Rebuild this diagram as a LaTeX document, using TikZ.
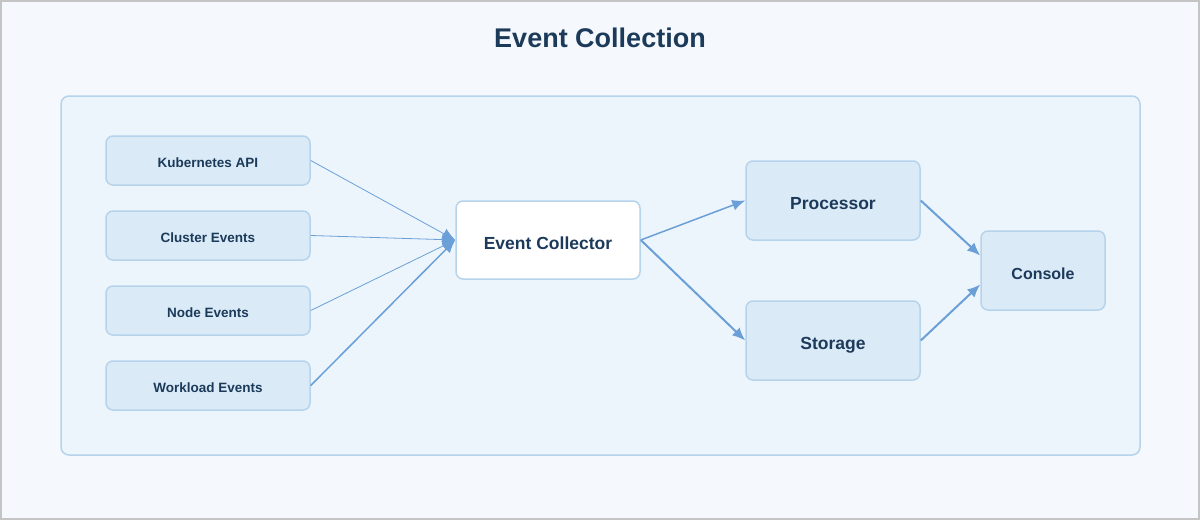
\documentclass[tikz,border=0pt]{standalone}
\usepackage{fontspec}
\setmainfont{Liberation Sans}
\usetikzlibrary{arrows.meta}
\definecolor{pagebg}{HTML}{F5F9FE}
\definecolor{panelbg}{HTML}{EDF5FC}
\definecolor{boxbg}{HTML}{DAEAF7}
\definecolor{boxline}{HTML}{B6D3EC}
\definecolor{ink}{HTML}{1C3A5A}
\definecolor{flow}{HTML}{6A9FD8}
\begin{document}
\begin{tikzpicture}[x=1pt, y=-1pt, font=\bfseries, text=ink,
    main/.style = {draw=boxline, line width=1.5pt, fill=boxbg, rounded corners=7pt, inner sep=0pt, text depth=0pt},
    src/.style = {main, minimum width=204pt, minimum height=49pt, text height=14pt, font=\fontsize{13.5}{16}\bfseries},
    stage/.style = {main, minimum width=174pt, minimum height=79pt, text height=18.5pt, font=\fontsize{17.5}{20}\bfseries},
    flowline/.style = {draw=flow, -{Latex[length=13pt, width=11pt]}}]
\useasboundingbox (0,0) rectangle (1200,520);
\fill[pagebg] (0,0) rectangle (1200,520);
\draw[color=black!23, line width=2pt] (1,1) rectangle (1199,519);
\draw[boxline, line width=1.5pt, fill=panelbg, rounded corners=8pt] (61,96) rectangle (1140,455);
\node (title) at (600,38) {\fontsize{27}{32}\bfseries Event Collection};
\node[src] (kube) at (208,160.5) {Kubernetes API};
\node[src] (cluster) at (208,235.5) {Cluster Events};
\node[src] (nodeev) at (208,310.5) {Node Events};
\node[src] (work) at (208,385.5) {Workload Events};
\node[stage, fill=white, minimum width=184pt, minimum height=78pt] (coll) at (548,240) {Event Collector};
\node[stage] (proc) at (833,200.5) {Processor};
\node[stage] (store) at (833,340.5) {Storage};
\node[stage, minimum width=124pt, text height=17pt, font=\fontsize{16}{19}\bfseries] (cons) at (1043,270.5) {Console};
\draw[flowline, line width=0.8pt] (kube.east) -- (coll.west);
\draw[flowline, line width=0.8pt] (cluster.east) -- (coll.west);
\draw[flowline, line width=0.8pt] (nodeev.east) -- (coll.west);
\draw[flowline, line width=1.5pt] (work.east) -- (coll.west);
\draw[flowline, line width=1.5pt] (coll.east) -- (proc.west);
\draw[flowline, line width=2pt] (coll.east) -- (store.west);
\draw[flowline, line width=2pt] (proc.east) -- ([yshift=15pt]cons.west);
\draw[flowline, line width=2pt] (store.east) -- ([yshift=-14pt]cons.west);
\end{tikzpicture}
\end{document}
